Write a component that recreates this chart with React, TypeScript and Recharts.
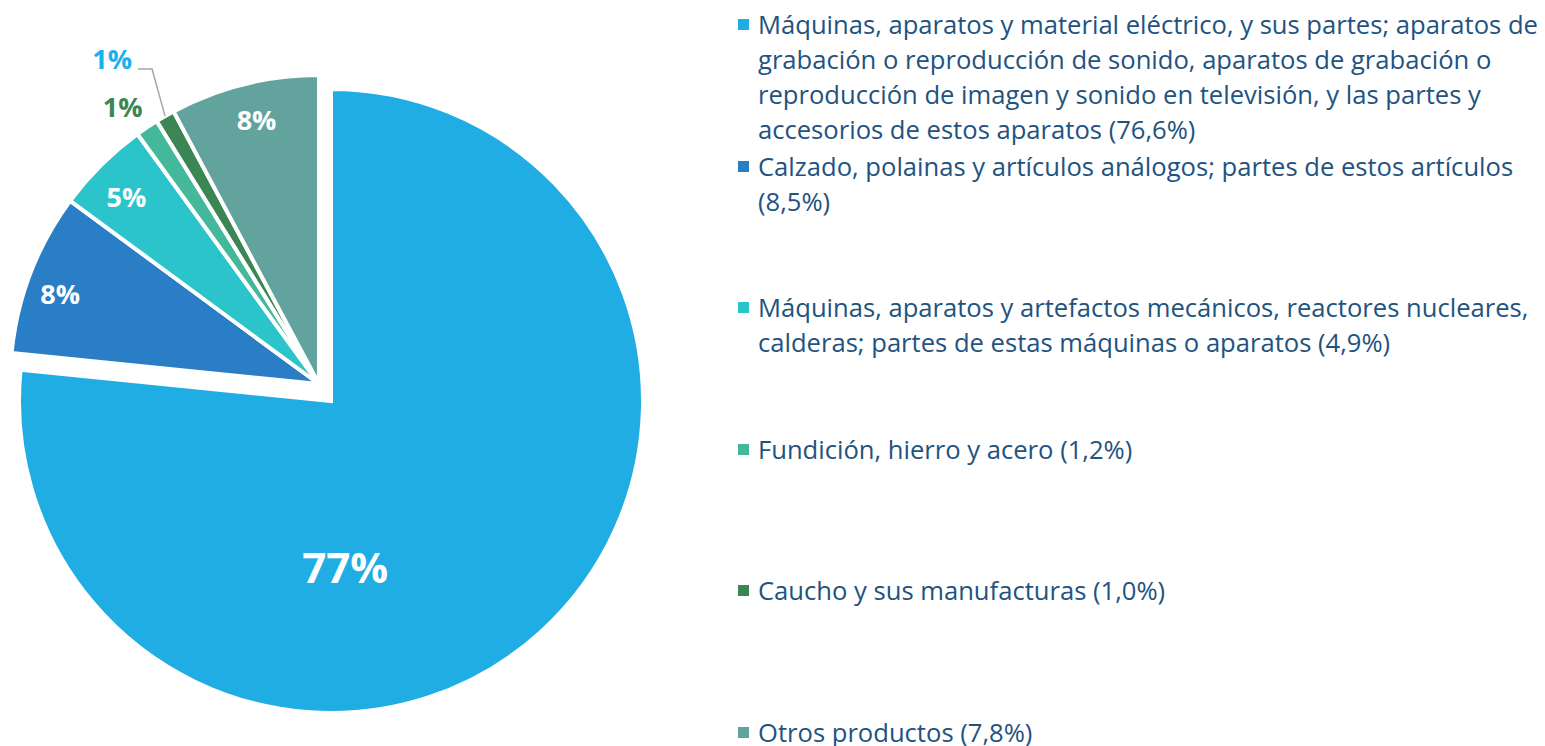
import { Cell, Pie, PieChart } from 'recharts'

const NAMES = [
  'Máquinas, aparatos y material eléctrico, y sus partes; aparatos de\ngrabación o reproducción de sonido, aparatos de grabación o\nreproducción de imagen y sonido en televisión, y las partes y\naccesorios de estos aparatos (76,6%)',
  'Calzado, polainas y artículos análogos; partes de estos artículos\n(8,5%)',
  'Máquinas, aparatos y artefactos mecánicos, reactores nucleares,\ncalderas; partes de estas máquinas o aparatos (4,9%)',
  'Fundición, hierro y acero (1,2%)',
  'Caucho y sus manufacturas (1,0%)',
  'Otros productos (7,8%)',
]
const VALUES = [76.6, 8.5, 4.9, 1.2, 1.0, 7.8]
const LABELS = ['77%', '8%', '5%', '1%', '1%', '8%']
const COLORS = ['#1FADE4', '#2A7EC6', '#2AC4CA', '#43B89A', '#3B8654', '#62A39D']

const data = NAMES.map((n, i) => ({ name: n, value: VALUES[i] }))

const FONT = '"Open Sans", sans-serif'
const TEXT = '#225380'
const RAD = Math.PI / 180

// label placement: [radius factor, angle shift from mid angle]
const LABEL_PLACE: [number, number][] = [
  [0.537, -37.3],
  [0.887, 1.9],
  [0.869, 1.0],
  [1.098, 1.5],
  [1.0, 0],
  [0.876, -0.7],
]

function Pct({ x, y, fs, fill, anchor = 'middle', children }: any) {
  // y is the cap-height centre
  return (
    <text x={x} y={y + fs * 0.357} textAnchor={anchor} fill={fill} fontSize={fs} fontWeight={700} fontFamily={FONT}>
      {children}
    </text>
  )
}

function renderLabel(props: any) {
  const { cx, cy, midAngle, outerRadius, index } = props
  const [f, shift] = LABEL_PLACE[index]
  const a = (midAngle + shift) * RAD
  const x = cx + Math.cos(-a) * outerRadius * f
  const y = cy + Math.sin(-a) * outerRadius * f
  if (index === 0) {
    return <Pct x={x} y={y} fs={42} fill="#fff">{LABELS[0]}</Pct>
  }
  if (index === 4) {
    const ex = x - 13
    const ey = y - 47
    return (
      <g>
        <polyline points={`${x},${y} ${ex},${ey} ${ex - 14},${ey}`} fill="none" stroke="#A6A6A6" strokeWidth={1.5} />
        <Pct x={ex - 20} y={ey - 10} fs={27} fill="#1AB0EE" anchor="end">{LABELS[4]}</Pct>
      </g>
    )
  }
  if (index === 3) {
    return <Pct x={x} y={y} fs={27} fill="#3B8654">{LABELS[3]}</Pct>
  }
  return <Pct x={x} y={y} fs={27} fill="#fff">{LABELS[index]}</Pct>
}

function LegendList() {
  return (
    <div style={{ position: 'absolute', left: 738, top: 0, width: 807, height: 746, fontFamily: FONT }}>
      {NAMES.map((n, i) => (
        <div key={i} style={{ position: 'absolute', left: 0, top: 7 + i * 141.6, display: 'flex' }}>
          <span style={{ width: 11, height: 11, marginTop: 12, marginRight: 9, backgroundColor: COLORS[i], flexShrink: 0 }} />
          <span style={{ whiteSpace: 'pre', fontSize: 25.6, lineHeight: '35px', color: TEXT }}>{n}</span>
        </div>
      ))}
    </div>
  )
}

export default function App() {
  return (
    <div style={{ position: 'absolute', left: 0, top: 0, width: 1545, height: 746, background: '#fff' }}>
      <PieChart width={1545} height={746} margin={{ top: 0, right: 0, bottom: 0, left: 0 }}>
        <Pie
          data={data}
          dataKey="value"
          nameKey="name"
          cx={319}
          cy={384}
          outerRadius={309}
          startAngle={90}
          endAngle={-270}
          stroke="#fff"
          strokeWidth={4}
          label={(p: any) => (p.index === 0 ? null : renderLabel(p))}
          labelLine={false}
          isAnimationActive={false}
        >
          {COLORS.map((c, i) => (
            <Cell key={i} fill={i === 0 ? 'none' : c} stroke={i === 0 ? 'none' : '#fff'} />
          ))}
        </Pie>
        <Pie
          data={data}
          dataKey="value"
          nameKey="name"
          cx={331}
          cy={401}
          outerRadius={312}
          startAngle={90}
          endAngle={-270}
          stroke="#fff"
          strokeWidth={4}
          label={(p: any) => (p.index === 0 ? renderLabel(p) : null)}
          labelLine={false}
          isAnimationActive={false}
        >
          {COLORS.map((c, i) => (
            <Cell key={i} fill={i === 0 ? c : 'none'} stroke={i === 0 ? '#fff' : 'none'} />
          ))}
        </Pie>
      </PieChart>
      <LegendList />
    </div>
  )
}
